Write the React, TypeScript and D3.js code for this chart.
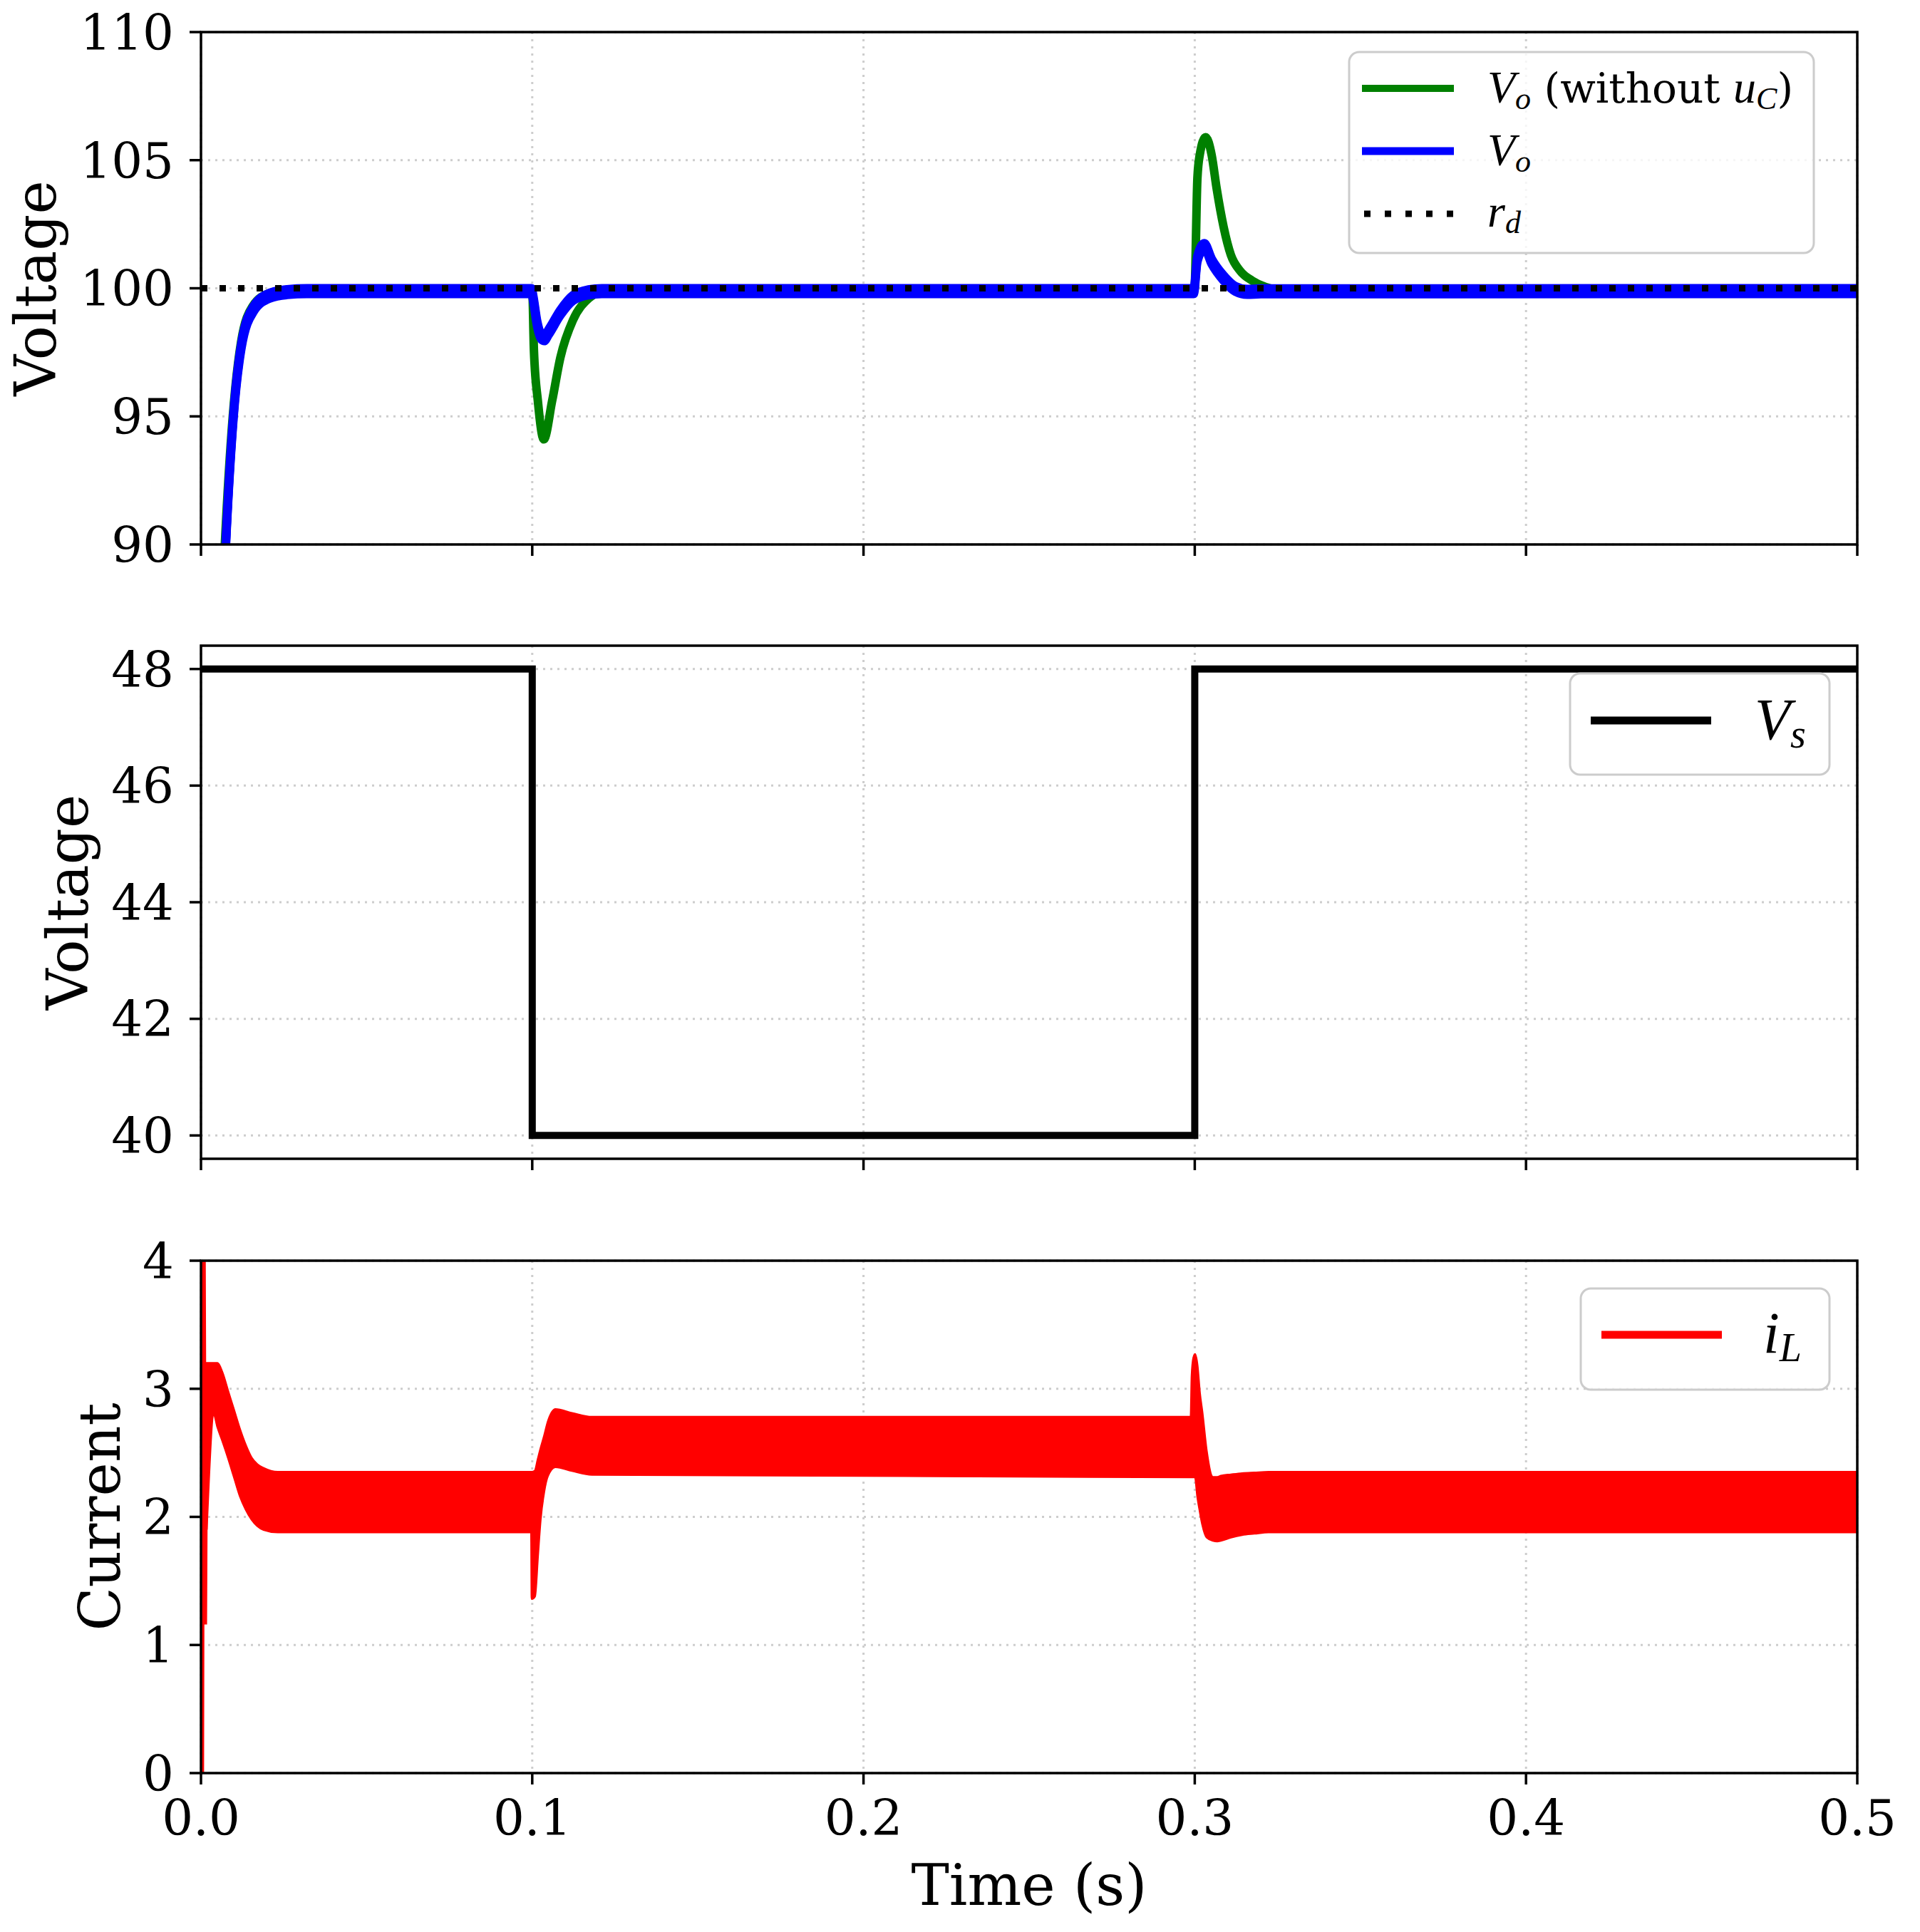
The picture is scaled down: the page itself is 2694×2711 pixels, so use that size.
import * as d3 from "d3";
import React from "react";

// ---- data ----
const xTicks = [0, 0.1, 0.2, 0.3, 0.4, 0.5];
const xTickLabels = ["0.0", "0.1", "0.2", "0.3", "0.4", "0.5"];

// top panel: output voltage
const voTicks = [90, 95, 100, 105, 110];
const voNoUc: [number, number][] = [
  [0.0055, 85], [0.0072, 90], [0.0096, 95], [0.0121, 97.9], [0.0156, 99.3], [0.0205, 99.8],
  [0.026, 99.93], [0.032, 99.95], [0.1, 99.95], [0.1005, 97.6], [0.1017, 95.6], [0.1035, 94.1],
  [0.106, 95.6], [0.1085, 97.3], [0.1123, 98.76], [0.117, 99.6], [0.122, 99.9], [0.126, 99.95],
  [0.2999, 99.95], [0.3008, 104.3], [0.3015, 105.2], [0.3033, 105.9], [0.3051, 105.2],
  [0.3066, 103.9], [0.3087, 102.4], [0.3109, 101.3], [0.3137, 100.68], [0.3173, 100.3],
  [0.3208, 100.08], [0.325, 99.95], [0.5, 99.95],
];
const voCtrl: [number, number][] = [
  [0.0059, 85], [0.0075, 90], [0.0098, 95], [0.0122, 97.76], [0.0159, 99.2], [0.0209, 99.72],
  [0.026, 99.85], [0.032, 99.89], [0.0998, 99.89], [0.1003, 99.6], [0.1015, 98.6], [0.1028, 98.1],
  [0.1036, 98.05], [0.105, 98.3], [0.1085, 99.05], [0.1123, 99.62], [0.117, 99.84], [0.121, 99.89],
  [0.2997, 99.89], [0.3008, 101.15], [0.3029, 101.65], [0.3051, 101.05], [0.3087, 100.4],
  [0.3122, 99.98], [0.3158, 99.86], [0.32, 99.88], [0.5, 99.89],
];
const rd: [number, number][] = [[0, 100], [0.5, 100]];

// middle panel: source voltage
const vsTicks = [40, 42, 44, 46, 48];
const vs: [number, number][] = [[0, 48], [0.1, 40], [0.3, 48], [0.5, 48]];

// bottom panel: inductor current (ripple band: t, upper, lower)
const ilTicks = [0, 1, 2, 3, 4];
const ilBand: [number, number, number][] = [
  [0.0017, 3.2, 1.9], [0.0039, 3.2, 2.8], [0.005, 3.2, 2.7], [0.0064, 3.13, 2.6],
  [0.0082, 2.98, 2.46], [0.01, 2.83, 2.31], [0.0118, 2.68, 2.16], [0.0135, 2.56, 2.06],
  [0.0153, 2.46, 1.98], [0.017, 2.41, 1.93], [0.0189, 2.38, 1.9], [0.0232, 2.35, 1.88],
  [0.0997, 2.35, 1.88], [0.09985, 2.35, 1.36], [0.1008, 2.36, 1.38], [0.1017, 2.45, 1.7],
  [0.1025, 2.53, 1.98], [0.1036, 2.63, 2.2], [0.1047, 2.74, 2.32], [0.107, 2.84, 2.39],
  [0.112, 2.81, 2.36], [0.118, 2.78, 2.33], [0.2988, 2.78, 2.31], [0.2991, 3.1, 2.31],
  [0.2996, 3.24, 2.31], [0.3001, 3.27, 2.31], [0.3008, 3.18, 2.16], [0.3015, 2.97, 2.05],
  [0.3023, 2.81, 1.94], [0.3036, 2.51, 1.84], [0.3055, 2.31, 1.815], [0.3068, 2.31, 1.81],
  [0.3079, 2.32, 1.815], [0.3109, 2.33, 1.84], [0.3143, 2.34, 1.86], [0.318, 2.345, 1.87],
  [0.3223, 2.35, 1.88], [0.5, 2.35, 1.88],
];
const ilStart: [number, number][] = [[0.0004, 0], [0.0008, 4.8], [0.0013, 1.16], [0.0017, 3.2]];

// ---- layout ----
const W = 2694, H = 2711;
const L = 282, R = 2606;
const SERIF = "DejaVu Serif";
const MATH = "Liberation Serif";

function Panel(props: any) {
  const { id, top, bottom, domain, ticks, yLabel, labelX, showX, children } = props;
  const x = d3.scaleLinear().domain([0, 0.5]).range([L, R]);
  const y = d3.scaleLinear().domain(domain).range([bottom, top]);
  const grid = { stroke: "#cdcdcd", strokeWidth: 3, strokeDasharray: "3,7" };

  return (
    <g>
      <defs>
        <clipPath id={id}>
          <rect x={L} y={top} width={R - L} height={bottom - top} />
        </clipPath>
      </defs>
      {xTicks.map((t) => (
        <line key={"gx" + t} x1={x(t)} x2={x(t)} y1={top} y2={bottom} {...grid} />
      ))}
      {ticks.map((t: number) => (
        <line key={"gy" + t} x1={L} x2={R} y1={y(t)} y2={y(t)} {...grid} />
      ))}
      <g clipPath={`url(#${id})`}>{children(x, y)}</g>
      <rect x={L} y={top} width={R - L} height={bottom - top} fill="none" stroke="#000" strokeWidth={3.5} />
      {ticks.map((t: number) => (
        <g key={"ty" + t}>
          <line x1={L - 16} x2={L} y1={y(t)} y2={y(t)} stroke="#000" strokeWidth={3.5} />
          <text x={L - 38} y={y(t)} dy="0.36em" textAnchor="end" fontFamily={SERIF} fontSize={69}>
            {t}
          </text>
        </g>
      ))}
      {xTicks.map((t, i) => (
        <g key={"tx" + t}>
          <line x1={x(t)} x2={x(t)} y1={bottom} y2={bottom + 16} stroke="#000" strokeWidth={3.5} />
          {showX ? (
            <text x={x(t)} y={bottom + 87} textAnchor="middle" fontFamily={SERIF} fontSize={69}>
              {xTickLabels[i]}
            </text>
          ) : null}
        </g>
      ))}
      <text
        transform={`translate(${labelX},${(top + bottom) / 2}) rotate(-90)`}
        textAnchor="middle"
        fontFamily={SERIF}
        fontSize={80}
      >
        {yLabel}
      </text>
    </g>
  );
}

function LegendBox(props: any) {
  const { x, y, w, h } = props;
  return (
    <rect x={x} y={y} width={w} height={h} rx={14} fill="#fff" fillOpacity={0.8} stroke="#cccccc" strokeWidth={3} />
  );
}

export default function App() {
  return (
    <svg width={W} height={H} style={{ position: "absolute", left: 0, top: 0 }} xmlns="http://www.w3.org/2000/svg">
      <rect width={W} height={H} fill="#fff" />

      <Panel id="c1" top={45} bottom={764} domain={[90, 110]} ticks={voTicks} yLabel="Voltage" labelX={78}>
        {(x: any, y: any) => {
          const line = d3.line<[number, number]>().x((d) => x(d[0])).y((d) => y(d[1])).curve(d3.curveMonotoneX);
          const blue = line(voCtrl) || "";
          // switching ripple thickens the controlled output vertically
          return (
            <g>
              <path d={line(voNoUc) || ""} fill="none" stroke="#008000" strokeWidth={12} strokeLinejoin="round" />
              <path d={blue} transform="translate(0,-4)" fill="none" stroke="#0000ff" strokeWidth={12} strokeLinejoin="round" />
              <path d={blue} transform="translate(0,4)" fill="none" stroke="#0000ff" strokeWidth={12} strokeLinejoin="round" />
              <path d={blue} fill="none" stroke="#0000ff" strokeWidth={12} strokeLinejoin="round" />
              <path d={line(rd) || ""} fill="none" stroke="#000" strokeWidth={9} strokeDasharray="9,17" />
            </g>
          );
        }}
      </Panel>
      <LegendBox x={1893} y={73} w={652} h={282} />
      <line x1={1911} x2={2040} y1={124} y2={124} stroke="#008000" strokeWidth={10} />
      <line x1={1911} x2={2040} y1={212} y2={212} stroke="#0000ff" strokeWidth={11} />
      <line x1={1914} x2={2040} y1={300} y2={300} stroke="#000" strokeWidth={9} strokeDasharray="9,20" />
      <text x={2087} y={144} fontFamily={MATH} fontStyle="italic" fontSize={64}>
        V<tspan fontSize={44} dy={9}>o</tspan>
        <tspan dy={-9} fontFamily={SERIF} fontStyle="normal" fontSize={58}>{" (without "}</tspan>
        <tspan>u</tspan>
        <tspan fontSize={44} dy={9}>C</tspan>
        <tspan dy={-9} fontFamily={SERIF} fontStyle="normal" fontSize={58}>)</tspan>
      </text>
      <text x={2087} y={232} fontFamily={MATH} fontStyle="italic" fontSize={64}>
        V<tspan fontSize={44} dy={9}>o</tspan>
      </text>
      <text x={2087} y={318} fontFamily={MATH} fontStyle="italic" fontSize={64}>
        r<tspan fontSize={44} dy={9}>d</tspan>
      </text>

      <Panel id="c2" top={906} bottom={1626} domain={[39.6, 48.4]} ticks={vsTicks} yLabel="Voltage" labelX={123}>
        {(x: any, y: any) => {
          const line = d3.line<[number, number]>().x((d) => x(d[0])).y((d) => y(d[1])).curve(d3.curveStepAfter);
          return <path d={line(vs) || ""} fill="none" stroke="#000" strokeWidth={10} strokeLinejoin="miter" />;
        }}
      </Panel>
      <LegendBox x={2203} y={945} w={364} h={142} />
      <line x1={2232} x2={2401} y1={1011} y2={1011} stroke="#000" strokeWidth={11} />
      <text x={2462} y={1037} fontFamily={MATH} fontStyle="italic" fontSize={82}>
        V<tspan fontSize={56} dy={12}>s</tspan>
      </text>

      <Panel id="c3" top={1769} bottom={2488} domain={[0, 4]} ticks={ilTicks} yLabel="Current" labelX={168} showX>
        {(x: any, y: any) => {
          const area = d3
            .area<[number, number, number]>()
            .x((d) => x(d[0]))
            .y0((d) => y(d[2]))
            .y1((d) => y(d[1]))
            .curve(d3.curveMonotoneX);
          const line = d3.line<[number, number]>().x((d) => x(d[0])).y((d) => y(d[1]));
          return (
            <g>
              <path d={area(ilBand) || ""} fill="#ff0000" stroke="#ff0000" strokeWidth={3} />
              <path d={line(ilStart) || ""} fill="none" stroke="#ff0000" strokeWidth={5} />
            </g>
          );
        }}
      </Panel>
      <LegendBox x={2218} y={1808} w={349} h={142} />
      <line x1={2247} x2={2416} y1={1873} y2={1873} stroke="#ff0000" strokeWidth={11} />
      <text x={2474} y={1898} fontFamily={MATH} fontStyle="italic" fontSize={82}>
        i<tspan fontSize={56} dy={12}>L</tspan>
      </text>

      <text x={(L + R) / 2} y={2673} textAnchor="middle" fontFamily={SERIF} fontSize={80}>
        Time (s)
      </text>
    </svg>
  );
}
